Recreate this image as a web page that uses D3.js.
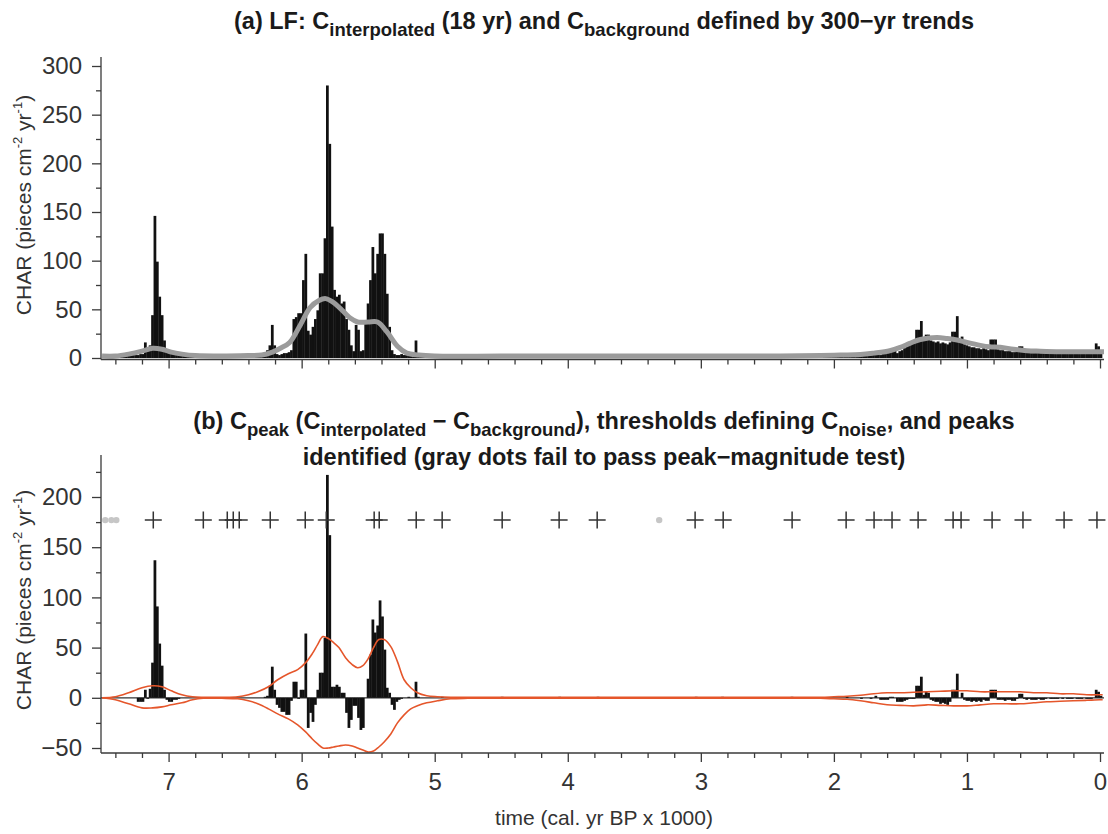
<!DOCTYPE html>
<html>
<head>
<meta charset="utf-8">
<script src="https://cdn.jsdelivr.net/npm/d3@7"></script>
<style>
  body { margin: 0; background: #fff; }
  text { font-family: "Liberation Sans", Arial, Helvetica, sans-serif; }
</style>
</head>
<body>
<svg id="chart" width="1108" height="834"></svg>
<script>
// ---- data -------------------------------------------------------------
// 18-yr bins, oldest first; ages in cal. kyr BP (older edge of the first bin)
const binStartAge = 7.491;
const binWidth = 0.018;

// C_interpolated (pieces cm^-2 yr^-1), one value per bin
const charInterpolated = [
  2,2,2,2,2,2,2,2,3,2,
  2,3,3,3,3,4,4,16,7,13,
  44,146,99,63,44,18,8,6,5,5,
  4,3,3,3,2,2,2,2,2,2,
  2,2,2,2,2,2,2,2,2,2,
  2,2,2,2,2,2,2,2,2,3,
  2,2,3,3,2,3,3,5,8,13,
  34,13,4,3,4,5,5,6,8,40,
  42,46,46,80,107,28,24,32,40,49,
  87,87,123,280,220,135,70,63,65,56,
  58,40,29,13,7,34,29,7,8,36,
  56,80,114,87,107,128,128,107,66,32,
  8,4,3,3,4,3,3,3,5,4,
  18,4,3,2,2,3,2,2,2,2,
  2,3,2,2,2,2,2,2,2,2,
  2,2,2,2,2,2,2,2,2,2,
  2,2,2,2,2,2,3,2,2,2,
  2,2,2,2,2,2,2,2,2,2,
  2,2,2,2,2,2,2,2,2,2,
  3,2,2,2,2,2,2,2,2,2,
  2,2,2,2,2,2,3,2,2,2,
  2,2,2,2,2,2,2,2,2,2,
  2,2,2,2,2,2,2,2,2,2,
  2,2,2,2,2,2,2,2,2,2,
  2,2,2,2,2,2,2,3,2,2,
  2,2,2,2,2,2,2,2,3,2,
  2,2,2,2,2,2,2,2,2,2,
  2,2,2,2,2,2,2,2,2,2,
  2,2,2,2,2,2,2,3,2,2,
  2,2,2,2,2,2,2,2,2,2,
  2,3,2,3,2,3,3,2,3,3,
  4,2,3,3,3,3,2,3,3,4,
  3,4,6,4,3,4,4,5,9,9,
  9,5,7,8,10,12,14,15,16,29,
  29,38,20,24,24,18,17,16,17,15,
  16,15,14,16,27,27,43,18,22,14,
  13,12,11,11,10,10,9,10,9,8,
  19,19,19,9,8,8,7,7,7,6,
  6,7,12,12,7,6,6,5,5,5,
  6,5,5,5,6,5,5,5,5,6,
  5,6,5,5,5,6,5,5,5,6,
  5,5,5,6,15,12,8
];

// C_peak = C_interpolated - C_background, same bins
const charPeak = [
  0,0,0,0,0,0,0,0,0,0,
  0,0,0,0,-4,-4,-4,8,-1,9,
  35,137,91,54,32,8,-2,-4,-4,-2,
  -2,-1,0,0,0,0,0,0,0,0,
  0,0,0,0,0,0,0,0,0,0,
  0,0,0,0,0,0,0,0,0,0,
  0,0,0,0,0,0,0,1,2,12,
  31,8,-7,-10,-14,-14,-17,-17,-3,16,
  16,-1,8,8,64,-30,-15,-24,-7,8,
  25,25,60,222,162,11,11,13,11,5,
  5,-15,-30,-22,-8,-8,-20,-32,-30,0,
  19,43,78,65,72,97,81,48,10,5,
  -7,-12,-4,-2,-1,0,0,1,0,0,
  16,1,0,0,0,0,0,0,0,0,
  0,1,0,0,0,0,0,0,0,0,
  0,0,0,0,0,0,0,0,0,0,
  0,0,0,0,0,0,1,0,0,0,
  0,0,0,0,0,0,0,0,0,0,
  0,0,0,0,0,0,0,0,0,0,
  1,0,0,0,0,0,0,0,0,0,
  0,0,0,0,0,0,1,0,0,0,
  0,0,0,0,0,0,0,0,0,0,
  0,0,0,0,0,0,0,0,0,0,
  0,0,0,0,0,0,0,0,0,0,
  0,0,0,0,0,0,0,1,0,0,
  0,0,0,0,0,0,0,0,1,0,
  0,0,0,0,0,0,0,0,0,0,
  0,0,0,0,0,0,0,0,0,0,
  0,0,0,0,0,0,0,1,0,0,
  0,0,0,0,0,0,0,0,0,0,
  0,0,0,0,0,0,0,0,0,0,
  1,0,0,0,0,0,-1,0,0,0,
  -1,0,2,0,-2,-2,-2,-2,1,1,
  0,-4,-4,-4,-3,-2,-1,-1,-1,12,
  12,21,3,6,5,-2,-3,-4,-4,-6,
  -5,-6,-7,-4,8,8,24,0,5,-2,
  -3,-3,-4,-3,-4,-3,-4,-2,-3,-3,
  8,8,8,-2,-2,-2,-3,-2,-2,-3,
  -3,-1,4,4,-1,-2,-1,-2,-2,-2,
  -1,-2,-2,-1,0,-1,-1,-1,-1,0,
  -1,0,-1,-1,-1,0,-1,-1,-1,0,
  -1,-1,-1,0,8,6,2
];

// C_background: 300-yr trend
const backgroundAges = [7.50,7.40,7.30,7.20,7.12,7.05,6.98,6.90,6.80,6.60,
  6.40,6.30,6.22,6.16,6.09,6.01,5.935,5.87,5.82,5.77,
  5.71,5.635,5.58,5.50,5.43,5.36,5.28,5.21,5.12,5.00,
  4.5,4.0,3.5,3.0,2.5,2.1,1.95,1.8,1.7,1.58,
  1.5,1.43,1.35,1.225,1.15,1.074,1.0,0.9,0.83,0.75,
  0.65,0.55,0.45,0.3,0.15,0.0,-0.03];
const backgroundValues = [2,2,4,7,10,9,6,4,2.5,2,
  2.5,3,6,10,16,34,52,59,61,58,
  51,41,37,37,37,27,12,5,3,2,
  2,2,2,2,2,2.5,3,3.5,5,7.5,
  11,15,19,21,20,18.5,16,13,11.5,11,
  9,7.5,7,6.5,6.5,6.5,6.5];

// thresholds defining C_noise
const thresholdAges = [7.50,7.40,7.30,7.20,7.12,7.05,6.98,6.90,6.82,6.74,
  6.60,6.48,6.40,6.33,6.25,6.18,6.10,6.03,5.97,5.92,
  5.88,5.84,5.80,5.76,5.72,5.67,5.62,5.58,5.54,5.50,
  5.46,5.42,5.38,5.33,5.28,5.23,5.18,5.13,5.06,4.98,
  4.88,4.75,4.5,4.0,3.5,3.0,2.5,2.1,2.0,1.9,
  1.8,1.7,1.6,1.5,1.4,1.3,1.2,1.1,1.0,0.9,
  0.8,0.7,0.6,0.5,0.4,0.3,0.2,0.1,0.0,-0.02];
const upperThreshold = [0,1,5,10,12,11,7,3,1,0.5,
  0.5,1,3,6,11,18,24,28,35,44,
  53,61,59,55,50,40,33,30,32,39,
  50,58,58,51,36,18,10,5,2,1,
  0.5,0.5,0.5,0.5,0.5,0.5,0.5,0.5,1,1.5,
  2.5,4,5,5,5.5,6,6.5,7,7,6,
  6,6,6,5,5,4,4,3,3,3];
const lowerThreshold = [0,-2,-6,-10,-10,-9,-7,-5,-2,-0.5,
  -0.5,-1,-3,-6,-11,-16,-21,-27,-34,-41,
  -46,-50,-50,-49,-48,-47,-48,-50,-52,-54,
  -53,-49,-44,-36,-25,-17,-11,-8,-5,-3,
  -1,-0.5,-0.5,-0.5,-0.5,-0.5,-0.5,-0.5,-1,-1.5,
  -3,-5,-7,-7.5,-8,-7,-7.5,-8,-8,-7,
  -6,-6,-6,-5,-4,-3.5,-3,-2.5,-2,-2];

// identified peaks (+) and peaks failing the magnitude test (gray dots)
const peakAges = [7.115,6.739,6.559,6.514,6.469,6.236,5.973,5.815,5.455,5.417,
  5.139,4.944,4.493,4.065,3.779,3.043,2.832,2.314,1.908,1.698,
  1.563,1.367,1.104,1.044,0.811,0.579,0.270,0.023];
const failedPeakAges = [7.476,7.430,7.393,3.313];
const markerLevel = 177;

// axes
const xMajorTicks = [7,6,5,4,3,2,1,0];
const xMinorTicks = [7.4,7.2,6.8,6.6,6.4,6.2,5.8,5.6,5.4,5.2,4.8,4.6,4.4,4.2,
  3.8,3.6,3.4,3.2,2.8,2.6,2.4,2.2,1.8,1.6,1.4,1.2,0.8,0.6,0.4,0.2];
const yTicksA = [0,50,100,150,200,250,300];
const yMinorA = [25,75,125,175,225,275];
const yTicksB = [-50,0,50,100,150,200];
const yMinorB = [-25,25,75,125,175,225];

// ---- drawing ----------------------------------------------------------
const svg = d3.select("#chart");
const AXIS = "#3a3a3a";
const LEFT = 101, RIGHT = 1104;

const x = d3.scaleLinear().domain([7.508, -0.03]).range([LEFT, RIGHT]);
const yA = d3.scaleLinear().domain([0, 300]).range([358, 66]);
const yB = d3.scaleLinear().domain([-50, 200]).range([748, 497]);

const bins = charInterpolated.map((v, i) => ({
  older: binStartAge - i * binWidth,
  younger: binStartAge - (i + 1) * binWidth,
  a: v,
  b: charPeak[i]
}));

function styleAxis(g) {
  g.select(".domain").remove();
  g.selectAll("line").attr("stroke", AXIS).attr("stroke-width", 1.3);
  g.selectAll("text").attr("fill", "#333").attr("font-size", 24)
    .attr("font-family", '"Liberation Sans", Arial, sans-serif');
}

function leftAxis(scale, majors, minors, top, bottom) {
  const g = svg.append("g").attr("transform", `translate(${LEFT},0)`);
  g.call(d3.axisLeft(scale).tickValues(majors).tickSize(9).tickPadding(10).tickSizeOuter(0))
    .call(styleAxis);
  const gm = svg.append("g").attr("transform", `translate(${LEFT},0)`);
  gm.call(d3.axisLeft(scale).tickValues(minors).tickSize(5).tickFormat("").tickSizeOuter(0))
    .call(styleAxis);
  svg.append("line").attr("x1", LEFT).attr("x2", LEFT).attr("y1", top).attr("y2", bottom)
    .attr("stroke", AXIS).attr("stroke-width", 1.3);
}

function bottomAxis(yPos, labels) {
  const g = svg.append("g").attr("transform", `translate(0,${yPos})`);
  g.call(d3.axisBottom(x).tickValues(xMajorTicks).tickSize(9).tickPadding(11)
      .tickFormat(labels ? d3.format("d") : "").tickSizeOuter(0))
    .call(styleAxis);
  const gm = svg.append("g").attr("transform", `translate(0,${yPos})`);
  gm.call(d3.axisBottom(x).tickValues(xMinorTicks).tickSize(5).tickFormat("").tickSizeOuter(0))
    .call(styleAxis);
  svg.append("line").attr("x1", LEFT).attr("x2", RIGHT).attr("y1", yPos).attr("y2", yPos)
    .attr("stroke", AXIS).attr("stroke-width", 1.3);
}

// title with subscripts; parts = [[text, isSub], ...]
function richText(parent, cx, cy, parts, size, subSize, weight) {
  const t = parent.append("text").attr("x", cx).attr("y", cy)
    .attr("text-anchor", "middle").attr("font-size", size)
    .attr("font-weight", weight).attr("fill", "#1a1a1a");
  let shifted = 0;
  parts.forEach(([s, kind]) => {
    const ts = t.append("tspan").text(s);
    const target = kind === "sub" ? 7 : kind === "sup" ? -8 : 0;
    if (target !== shifted) { ts.attr("dy", target - shifted); shifted = target; }
    if (kind) ts.attr("font-size", subSize);
  });
  return t;
}

// ---------- panel (a) ----------
const pa = svg.append("g");
pa.selectAll("rect.bar").data(bins).join("rect")
  .attr("class", "bar")
  .attr("x", d => x(d.older))
  .attr("width", d => x(d.younger) - x(d.older) + 0.35)
  .attr("y", d => yA(d.a))
  .attr("height", d => yA(0) - yA(d.a))
  .attr("fill", "#111");

const bgLine = d3.line()
  .x((d, i) => x(backgroundAges[i]))
  .y(d => yA(d))
  .curve(d3.curveCatmullRom.alpha(0.5));
pa.append("path").attr("d", bgLine(backgroundValues))
  .attr("fill", "none").attr("stroke", "#9b9b9b").attr("stroke-width", 5)
  .attr("stroke-linejoin", "round").attr("stroke-linecap", "butt");

leftAxis(yA, yTicksA, yMinorA, 57, 359.5);
bottomAxis(359.5, false);

richText(svg, 604, 29, [
  ["(a) LF: C"], ["interpolated", "sub"], [" (18 yr) and C"], ["background", "sub"],
  [" defined by 300\u2212yr trends"]
], 23.5, 18.5, "bold");

// y label (a)
const yl = (cy) => {
  const t = svg.append("text")
    .attr("transform", `translate(31,${cy}) rotate(-90)`)
    .attr("text-anchor", "middle").attr("font-size", 21).attr("fill", "#333");
  t.append("tspan").text("CHAR (pieces cm");
  t.append("tspan").text("-2").attr("font-size", 13).attr("dy", -9);
  t.append("tspan").text(" yr").attr("dy", 9);
  t.append("tspan").text("-1").attr("font-size", 13).attr("dy", -9);
  t.append("tspan").text(")").attr("dy", 9);
};
yl(205);

// ---------- panel (b) ----------
const pb = svg.append("g");
pb.append("line").attr("x1", LEFT).attr("x2", RIGHT)
  .attr("y1", yB(0)).attr("y2", yB(0)).attr("stroke", "#333").attr("stroke-width", 1.2);

pb.selectAll("rect.pk").data(bins).join("rect")
  .attr("class", "pk")
  .attr("x", d => x(d.older))
  .attr("width", d => x(d.younger) - x(d.older) + 0.35)
  .attr("y", d => yB(Math.max(0, d.b)))
  .attr("height", d => Math.abs(yB(d.b) - yB(0)))
  .attr("fill", "#111");

const thrLine = d3.line()
  .x((d, i) => x(thresholdAges[i]))
  .y(d => yB(d))
  .curve(d3.curveCatmullRom.alpha(0.5));
[upperThreshold, lowerThreshold].forEach(arr => {
  pb.append("path").attr("d", thrLine(arr))
    .attr("fill", "none").attr("stroke", "#e5562b").attr("stroke-width", 1.6);
});

pb.selectAll("path.plus").data(peakAges).join("path")
  .attr("class", "plus")
  .attr("transform", d => `translate(${x(d)},${yB(markerLevel)})`)
  .attr("d", "M-8.5,0H8.5M0,-8.5V8.5")
  .attr("stroke", "#333").attr("stroke-width", 1.5).attr("fill", "none");

pb.selectAll("circle.fail").data(failedPeakAges).join("circle")
  .attr("class", "fail")
  .attr("cx", d => x(d)).attr("cy", yB(markerLevel)).attr("r", 3.2)
  .attr("fill", "#c6c6c6");

leftAxis(yB, yTicksB, yMinorB, 455, 753);
bottomAxis(753, true);

richText(svg, 604, 429, [
  ["(b) C"], ["peak", "sub"], [" (C"], ["interpolated", "sub"], [" \u2212 C"], ["background", "sub"],
  ["), thresholds defining C"], ["noise", "sub"], [", and peaks"]
], 23.5, 18.5, "bold");
richText(svg, 604, 465, [
  ["identified (gray dots fail to pass peak\u2212magnitude test)"]
], 23.5, 18.5, "bold");

yl(600);

svg.append("text").attr("x", 604).attr("y", 825).attr("text-anchor", "middle")
  .attr("font-size", 21).attr("fill", "#333").text("time (cal. yr BP x 1000)");
</script>
</body>
</html>
